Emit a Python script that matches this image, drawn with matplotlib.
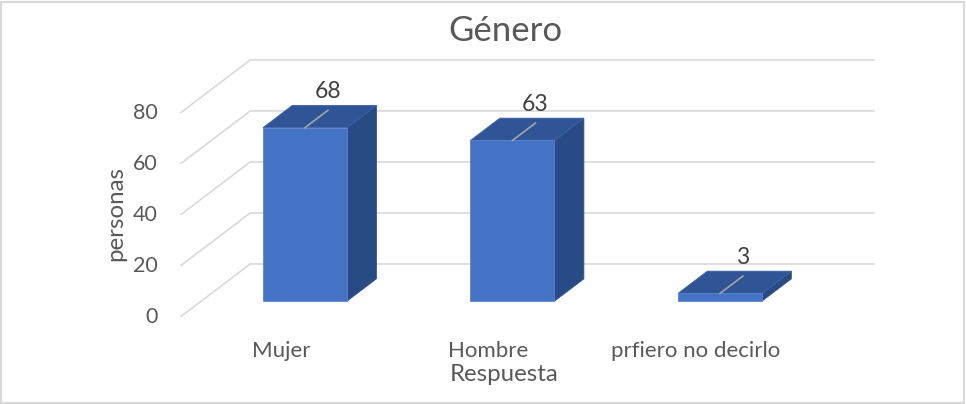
import matplotlib
matplotlib.use("Agg")
import matplotlib.pyplot as plt
from matplotlib.patches import Polygon, Rectangle

# ---- data ----
categories = ["Mujer", "Hombre", "prfiero no decirlo"]
values = [68, 63, 3]
y_ticks = [0, 20, 40, 60, 80]
title = "Género"
x_title = "Respuesta"
y_title = "personas"

# ---- style / layout ----
FONT = ["Lato", "DejaVu Sans"]
TXT = "#595959"
GRID = "#D9D9D9"
FRONT = "#4472C4"
TOP = "#2F5597"
SIDE = "#284A85"

DX, DY = 0.337, 20.8        # depth vector in data units (full depth)
D0, DD = 0.30, 0.42         # bar front depth and bar depth
W = 0.405                   # bar width
XL, XR = -0.5, 2.51         # extent of walls at front

fig = plt.figure(figsize=(9.66, 4.04), dpi=100)
ax = fig.add_axes([0, 0, 1, 1])
ax.set_xlim(-1.369, 3.287)
ax.set_ylim(-34.1, 124.3)
ax.axis("off")

# gridlines (side wall diagonal + back wall horizontal)
for v in y_ticks:
    ax.plot([XL, XL + DX, XR + DX], [v, v + DY, v + DY], color=GRID, lw=1.2,
            solid_capstyle="butt", zorder=1)
    ax.text(XL - 0.107, v, str(v), ha="right", va="center", fontsize=15.5,
            color=TXT, family=FONT)

# bars
for i, v in enumerate(values):
    cx = i + D0 * DX
    x0, x1 = cx - W / 2, cx + W / 2
    yb = D0 * DY
    yt = v + D0 * DY
    bx, by = DD * DX, DD * DY
    front = Rectangle((x0, yb), W, v, facecolor=FRONT, edgecolor="#5B84CF",
                      lw=0.6, zorder=3)
    top = Polygon([(x0, yt), (x1, yt), (x1 + bx, yt + by), (x0 + bx, yt + by)],
                  closed=True, facecolor=TOP, edgecolor="#3A63A8", lw=0.6, zorder=3)
    side = Polygon([(x1, yt), (x1 + bx, yt + by), (x1 + bx, yb + by), (x1, yb)],
                   closed=True, facecolor=SIDE, edgecolor="#30528F", lw=0.6, zorder=3)
    ax.add_patch(side)
    ax.add_patch(top)
    ax.add_patch(front)
    # leader line and data label
    lx = cx + 0.78 * bx
    ly = yt + 0.78 * by
    ax.plot([cx, lx], [yt, ly], color="#A6A6A6", lw=1.2, zorder=4)
    ax.text(lx, ly + 7.2, str(v), ha="center", va="center", fontsize=16.5,
            color="#404040", family=FONT, zorder=5)
    # category label
    ax.text(i - 0.015, -13.3, categories[i], ha="center", va="center",
            fontsize=16, color=TXT, family=FONT)

ax.text(1.06, -22.6, x_title, ha="center", va="center", fontsize=17.3,
        color=TXT, family=FONT)
ax.text(-0.81, 40.4, y_title, ha="center", va="center", rotation=90,
        fontsize=17.3, color=TXT, family=FONT)
ax.text(1.065, 112.3, title, ha="center", va="center", fontsize=25,
        color=TXT, family=FONT)

fig.patches.append(Rectangle((0.001, 0.003), 0.997, 0.993,
                             transform=fig.transFigure, fill=False,
                             edgecolor=GRID, lw=1.5))

fig.savefig("out.png", dpi=100, facecolor="white")
